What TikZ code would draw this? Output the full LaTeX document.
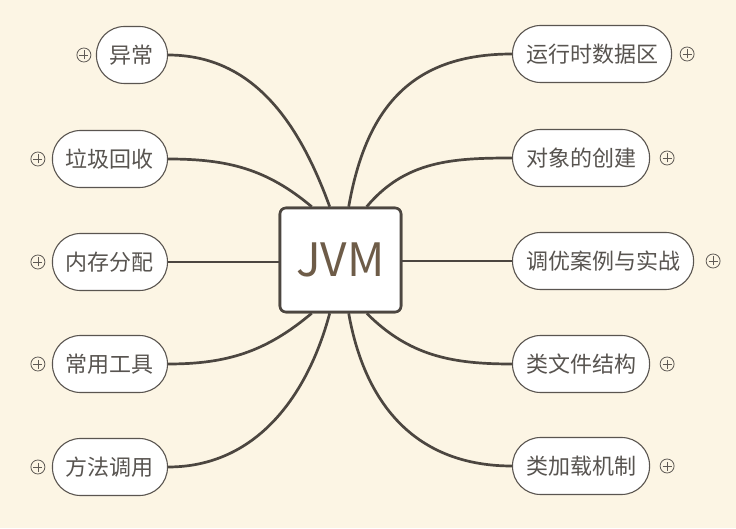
\documentclass[tikz,border=0pt]{standalone}
\usepackage{fontspec}
\setmainfont{Noto Sans CJK SC}
\usetikzlibrary{calc}
\definecolor{paper}{RGB}{252,245,228}
\definecolor{linkcol}{RGB}{76,70,64}
\definecolor{nodeline}{RGB}{90,85,80}
\definecolor{labeltext}{RGB}{88,84,80}
\definecolor{titletext}{RGB}{110,92,72}
\definecolor{foldcol}{RGB}{95,90,85}
\begin{document}
\begin{tikzpicture}[x=1pt,y=1pt,
  topic/.style={draw=nodeline, line width=1.1pt, fill=white, rounded corners=28pt,
    minimum height=57pt, inner xsep=13.5pt, inner ysep=0pt,
    font=\fontsize{22}{22}\selectfont, text=labeltext},
  link/.style={draw=linkcol, line width=2.7pt, looseness=1},
  fold/.style={circle, draw=foldcol, line width=0.8pt, minimum size=14pt, inner sep=0pt,
    path picture={\draw[foldcol, line width=0.8pt]
      ([xshift=-4.5pt]path picture bounding box.center) -- ([xshift=4.5pt]path picture bounding box.center)
      ([yshift=-4.5pt]path picture bounding box.center) -- ([yshift=4.5pt]path picture bounding box.center);}}
]
% page background
\fill[paper] (0,0) rectangle (736,528);
\useasboundingbox (0,0) rectangle (736,528);

% central topic (placed first so the connectors can refer to it)
\node[draw=linkcol, line width=2.6pt, rounded corners=6pt, fill=white,
      minimum width=121pt, minimum height=104pt, inner sep=0pt,
      font=\fontsize{46}{46}\selectfont, text=titletext] (jvm) at (340.5,268) {JVM};

% attachment points on the central box
\coordinate (t1) at ($(jvm.north west)+(33,0)$);
\coordinate (t2) at ($(jvm.north west)+(51,0)$);
\coordinate (t3) at ($(jvm.north west)+(70,0)$);
\coordinate (t4) at ($(jvm.north west)+(88,0)$);
\coordinate (b1) at ($(jvm.south west)+(33,0)$);
\coordinate (b2) at ($(jvm.south west)+(51,0)$);
\coordinate (b3) at ($(jvm.south west)+(70,0)$);
\coordinate (b4) at ($(jvm.south west)+(88,0)$);

% left branches
\node[topic, anchor=east] (l1) at (168,473) {异常};
\node[topic, anchor=east] (l2) at (168,369) {垃圾回收};
\node[topic, anchor=east] (l3) at (168,266) {内存分配};
\node[topic, anchor=east] (l4) at (168,164) {常用工具};
\node[topic, anchor=east] (l5) at (168,61) {方法调用};

% right branches
\node[topic, anchor=west] (r1) at (512,474) {运行时数据区};
\node[topic, anchor=west] (r2) at (512,370) {对象的创建};
\node[topic, anchor=west] (r3) at (512,267) {调优案例与实战};
\node[topic, anchor=west] (r4) at (512,164) {类文件结构};
\node[topic, anchor=west] (r5) at (512,62) {类加载机制};

% collapsed markers
\node[fold] (fl1) at ($(l1.west)+(-12,0)$) {};
\node[fold] (fl2) at ($(l2.west)+(-14,0)$) {};
\node[fold] (fl3) at ($(l3.west)+(-14,0)$) {};
\node[fold] (fl4) at ($(l4.west)+(-14,0)$) {};
\node[fold] (fl5) at ($(l5.west)+(-14,0)$) {};
\node[fold] (fr1) at ($(r1.east)+(15,0)$) {};
\node[fold] (fr2) at ($(r2.east)+(17,0)$) {};
\node[fold] (fr3) at ($(r3.east)+(19,0)$) {};
\node[fold] (fr4) at ($(r4.east)+(17,0)$) {};
\node[fold] (fr5) at ($(r5.east)+(17,0)$) {};

% connectors
\draw[link] (l1.east) to[out=0, in=110] (t2);
\draw[link] (l2.east) to[out=0, in=140] (t1);
\draw[link] (l3.east) -- (l3.east -| jvm.west);
\draw[link] (l4.east) to[out=0, in=220] (b1);
\draw[link] (l5.east) to[out=0, in=255] (b2);
\draw[link] (r1.west) to[out=180, in=80, looseness=1.15] (t3);
\draw[link] (r2.west) to[out=180, in=50] (t4);
\draw[link] (r3.west) -- (r3.west -| jvm.east);
\draw[link] (r4.west) to[out=180, in=315] (b4);
\draw[link] (r5.west) to[out=180, in=280, looseness=1.08] (b3);

% central box redrawn above its connectors
\node[draw=linkcol, line width=2.6pt, rounded corners=6pt, fill=white,
      minimum width=121pt, minimum height=104pt, inner sep=0pt,
      font=\fontsize{46}{46}\selectfont, text=titletext] (jvmtop) at (jvm) {JVM};
\end{tikzpicture}
\end{document}
